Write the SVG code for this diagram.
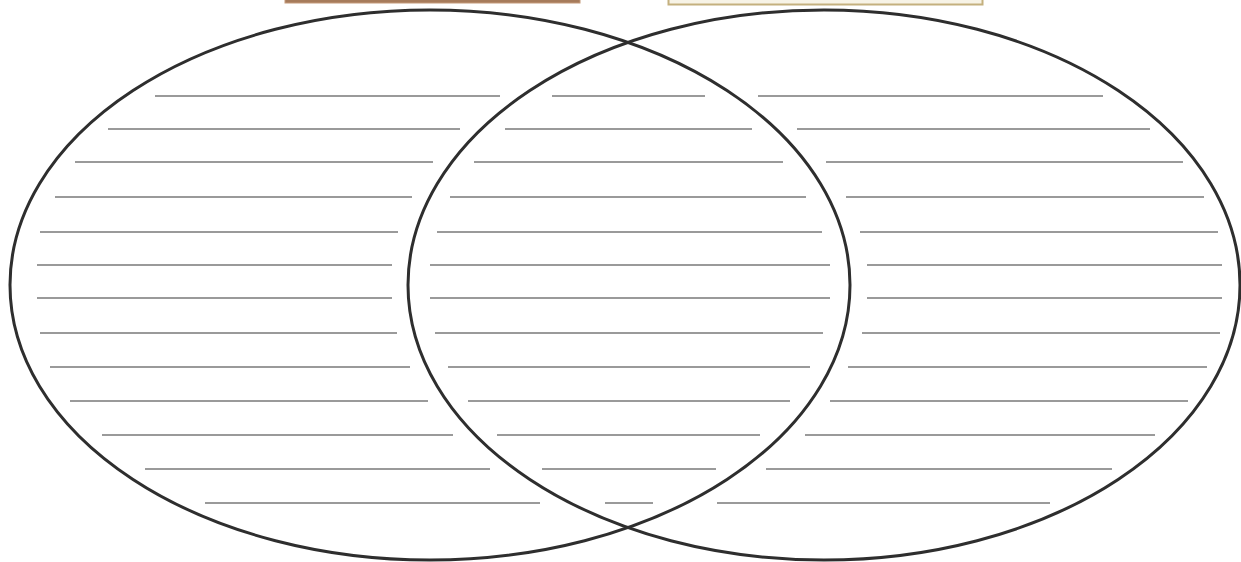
<svg xmlns="http://www.w3.org/2000/svg" width="1241" height="562" viewBox="0 0 1241 562">
<style>
.ln{stroke:#9a9a9a;stroke-width:2;fill:none}
.ring{fill:none;stroke:#2e2e2e;stroke-width:3}
</style>
<rect width="1241" height="562" fill="#ffffff"/>
<g id="bar-left"><rect x="285" y="-2" width="295" height="5" fill="#a67b5b" stroke="#c49a7a" stroke-width="1"/></g>
<g id="bar-right"><rect x="668.5" y="-2" width="314" height="6.5" fill="#f7f3e6" stroke="#c4b07e" stroke-width="2"/></g>
<g id="lines">
<path class="ln" d="M155 96H500M552 96H705M758 96H1103
M108 129H460M505 129H752M797 129H1150
M75 162H433M474 162H783M826 162H1183
M55 197H412M450 197H806M846 197H1204
M40 232H398M437 232H822M860 232H1218
M37 265H392M430 265H830M867 265H1222
M37 298H392M430 298H830M867 298H1222
M40 333H397M435 333H823M862 333H1220
M50 367H410M448 367H810M848 367H1207
M70 401H428M468 401H790M830 401H1188
M102 435H453M497 435H760M805 435H1155
M145 469H490M542 469H716M766 469H1112
M205 503H540M605 503H653M717 503H1050"/>
</g>
<g id="circle-left"><ellipse class="ring" cx="430" cy="285" rx="420" ry="275"/></g>
<g id="circle-right"><ellipse class="ring" cx="824" cy="285" rx="416" ry="275"/></g>
</svg>
